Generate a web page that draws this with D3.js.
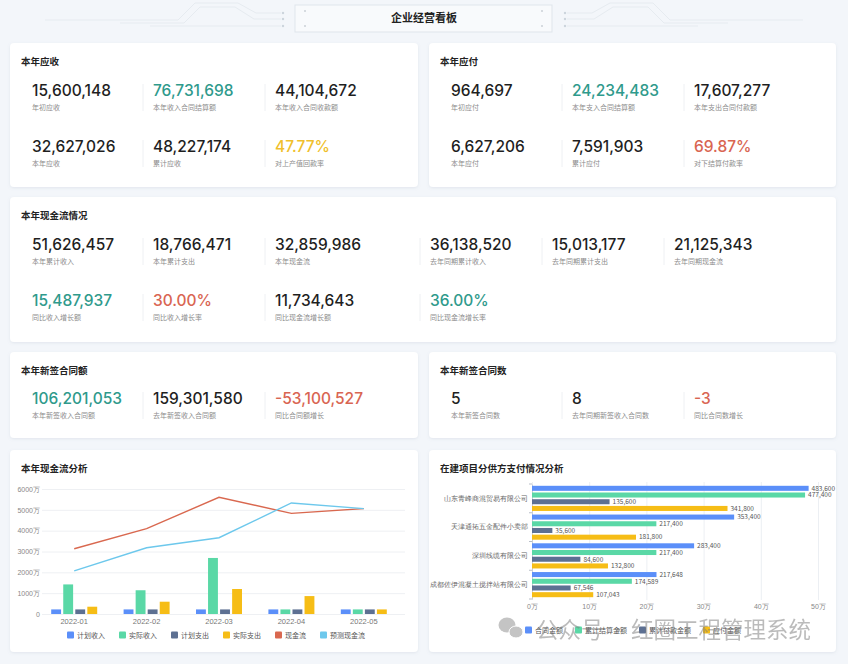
<!DOCTYPE html>
<html>
<head>
<meta charset="utf-8">
<script src="https://cdn.jsdelivr.net/npm/d3@7"></script>
<style>
html, body { margin: 0; padding: 0; background: #f3f6fa; }
svg { display: block; font-family: "Noto Sans CJK SC", "Noto Sans", sans-serif; }
.num { font-family: Inter, "Noto Sans", sans-serif; font-weight: 500; }
</style>
</head>
<body>
<svg id="board" width="848" height="664"></svg>
<script>
// ---- data ----
const receivableValues = ['15,600,148', '76,731,698', '44,104,672', '32,627,026', '48,227,174', '47.77%']
const receivableLabels = ['年初应收', '本年收入合同结算额', '本年收入合同收款额', '本年应收', '累计应收', '对上产值回款率']

const payableValues = ['964,697', '24,234,483', '17,607,277', '6,627,206', '7,591,903', '69.87%']
const payableLabels = ['年初应付', '本年支入合同结算额', '本年支出合同付款额', '本年应付', '累计应付', '对下结算付款率']

const cashValues = ['51,626,457', '18,766,471', '32,859,986', '36,138,520', '15,013,177', '21,125,343',
    '15,487,937', '30.00%', '11,734,643', '36.00%']
const cashLabels = ['本年累计收入', '本年累计支出', '本年现金流', '去年同期累计收入', '去年同期累计支出', '去年同期现金流',
    '同比收入增长额', '同比收入增长率', '同比现金流增长额', '同比现金流增长率']

const contractAmountValues = ['106,201,053', '159,301,580', '-53,100,527']
const contractAmountLabels = ['本年新签收入合同额', '去年新签收入合同额', '同比合同额增长']

const contractCountValues = ['5', '8', '-3']
const contractCountLabels = ['本年新签合同数', '去年同期新签收入合同数', '同比合同数增长']

// 本年现金流分析 (万)
const months = ['2022-01', '2022-02', '2022-03', '2022-04', '2022-05']
const barSeries = ['计划收入', '实际收入', '计划支出', '实际支出']
const lineSeries = ['现金流', '预测现金流']
const plannedIncome = [220, 220, 220, 220, 220]
const actualIncome = [1420, 1140, 2690, 220, 220]
const plannedExpense = [220, 220, 220, 220, 220]
const actualExpense = [350, 590, 1200, 860, 220]
const cashFlow = [3130, 4100, 5600, 4830, 5060]
const forecastCashFlow = [2070, 3180, 3660, 5330, 5060]
const cashTicks = [0, 1000, 2000, 3000, 4000, 5000, 6000]

// 在建项目分供方支付情况分析 (元)
const suppliers = ['山东青峰商混贸易有限公司', '天津通拓五金配件小卖部', '深圳线缆有限公司', '成都佐伊混凝土搅拌站有限公司']
const payFields = ['合同金额', '累计结算金额', '累计付款金额', '应付金额']
const contractAmount = [483600, 353400, 283400, 217648]
const settledAmount = [477400, 217400, 217400, 174589]
const paidAmount = [135600, 35600, 84600, 67546]
const dueAmount = [341800, 181800, 132800, 107043]
const payTicks = [0, 100000, 200000, 300000, 400000, 500000]

// ---- styles ----
const teal = '#2f9a8c', amber = '#f0bf2c', coral = '#d96552'
const toneByLabel = {
    '本年收入合同结算额': teal, '对上产值回款率': amber,
    '本年支入合同结算额': teal, '对下结算付款率': coral,
    '同比收入增长额': teal, '同比收入增长率': coral, '同比现金流增长率': teal,
    '本年新签收入合同额': teal, '同比合同额增长': coral, '同比合同数增长': coral
}
const barColors = ['#5b8ff9', '#5ad8a6', '#5d7092', '#f6bd16']
const lineColors = ['#d9684f', '#6dc8ec']

const svg = d3.select('#board')

svg.append('defs')
    .append('filter').attr('id', 'shadow')
    .attr('x', '-5%').attr('y', '-10%').attr('width', '110%').attr('height', '125%')
    .append('feDropShadow')
    .attr('dx', 0).attr('dy', 1).attr('stdDeviation', 1.5)
    .attr('flood-color', '#7f8fa6').attr('flood-opacity', 0.16)

svg.append('rect').attr('width', 848).attr('height', 664).attr('fill', '#f3f6fa')

// ---- header ----
function drawHeader() {
    const g = svg.append('g')
    const lines = [
        [[45, 20], [178, 20], [195, 3], [238, 3], [256, 13], [281, 13]],
        [[120, 23], [184, 23], [200, 7], [235, 7], [254, 19], [281, 19]],
        [[150, 26], [242, 26], [250, 26], [281, 26]]
    ]
    const line = d3.line()
    const mirror = pts => pts.map(([x, y]) => [848 - x, y])
    lines.forEach(pts => {
        g.append('path').attr('d', line(pts)).attr('fill', 'none').attr('stroke', '#e6ebf0')
        g.append('path').attr('d', line(mirror(pts))).attr('fill', 'none').attr('stroke', '#e6ebf0')
    })
    ;[13, 19, 26].forEach(y => {
        g.append('circle').attr('cx', 283).attr('cy', y).attr('r', 1.2).attr('fill', '#ccd4dd')
        g.append('circle').attr('cx', 565).attr('cy', y).attr('r', 1.2).attr('fill', '#ccd4dd')
    })
    g.append('rect').attr('x', 295).attr('y', 5).attr('width', 257).attr('height', 27)
        .attr('fill', '#f8fafc').attr('stroke', '#e0e5eb')
    ;[[305, 11], [305, 26], [542, 11], [542, 26]].forEach(([x, y]) =>
        g.append('circle').attr('cx', x).attr('cy', y).attr('r', 0.8).attr('fill', '#aab3be'))
    g.append('text').attr('x', 424).attr('y', 22).attr('text-anchor', 'middle')
        .attr('font-size', 11).attr('font-weight', 700).attr('fill', '#222')
        .text('企业经营看板')
}

function card(box, title) {
    const g = svg.append('g').attr('transform', `translate(${box.x},${box.y})`)
    g.append('rect').attr('width', box.w).attr('height', box.h).attr('rx', 4)
        .attr('fill', '#fff').attr('filter', 'url(#shadow)')
    if (title) g.append('text').attr('x', 11).attr('y', 22)
        .attr('font-size', 9.5).attr('font-weight', 700).attr('fill', '#222').text(title)
    return g
}

// rowLens: items per row; cols: x offsets; rows: number baselines
function kpis(g, values, labels, rowLens, cols, rows) {
    let i = 0
    rowLens.forEach((n, r) => {
        for (let c = 0; c < n; c++, i++) {
            const x = cols[c], y = rows[r]
            if (c > 0) g.append('line').attr('x1', x - 10).attr('x2', x - 10)
                .attr('y1', y - 12).attr('y2', y + 15).attr('stroke', '#eef0f3')
            g.append('text').attr('class', 'num').attr('x', x).attr('y', y)
                .attr('font-size', 15.5).attr('fill', toneByLabel[labels[i]] || '#1f1f1f')
                .text(values[i])
            g.append('text').attr('x', x).attr('y', y + 14)
                .attr('font-size', 7).attr('fill', '#8c8c8c').text(labels[i])
        }
    })
}

function legend(g, names, colors, cx, cy, gap) {
    const items = g.append('g')
    let x = 0
    names.forEach((n, i) => {
        const it = items.append('g').attr('transform', `translate(${x},0)`)
        it.append('rect').attr('y', -3.5).attr('width', 7).attr('height', 7).attr('rx', 1).attr('fill', colors[i])
        const t = it.append('text').attr('x', 10).attr('y', 2.6).attr('font-size', 7).attr('fill', '#555').text(n)
        x += 10 + t.node().getComputedTextLength() + gap
    })
    items.attr('transform', `translate(${cx - (x - gap) / 2},${cy})`)
}

drawHeader()

const cols3 = [22, 143, 265]
kpis(card({x: 10, y: 43, w: 408, h: 144}, '本年应收'), receivableValues, receivableLabels, [3, 3], cols3, [53, 109])
kpis(card({x: 429, y: 43, w: 407, h: 144}, '本年应付'), payableValues, payableLabels, [3, 3], cols3, [53, 109])
kpis(card({x: 10, y: 197, w: 826, h: 145}, '本年现金流情况'), cashValues, cashLabels, [6, 4],
    [22, 143, 265, 420, 542, 664], [53, 109])
kpis(card({x: 10, y: 352, w: 408, h: 86}, '本年新签合同额'), contractAmountValues, contractAmountLabels, [3], cols3, [52])
kpis(card({x: 429, y: 352, w: 407, h: 86}, '本年新签合同数'), contractCountValues, contractCountLabels, [3], cols3, [52])

// ---- 本年现金流分析 ----
function cashChart() {
    card({x: 10, y: 450, w: 408, h: 202}, '本年现金流分析')
    const p = svg.append('g')
    const x0 = d3.scaleBand().domain(months).range([38, 400])
    const x1 = d3.scaleBand().domain(barSeries).range([0, 46]).paddingInner(0.18)
    const y = d3.scaleLinear().domain([0, 6000]).range([614, 489])

    const ya = p.append('g').attr('transform', 'translate(42,0)')
        .call(d3.axisLeft(y).tickValues(cashTicks).tickSize(-363).tickPadding(2)
            .tickFormat(d => d === 0 ? '0' : d + '万'))
    ya.select('.domain').remove()
    ya.selectAll('line').attr('stroke', '#eef0f3')
    ya.selectAll('text').attr('font-size', 7).attr('fill', '#888').attr('font-family', null)

    const xa = p.append('g').attr('transform', 'translate(0,614)')
        .call(d3.axisBottom(x0).tickSize(0).tickPadding(5))
    xa.select('.domain').remove()
    xa.selectAll('text').attr('font-size', 7.5).attr('fill', '#777').attr('font-family', null)

    const barValues = [plannedIncome, actualIncome, plannedExpense, actualExpense]
    const off = (x0.bandwidth() - 46) / 2
    const bars = months.flatMap((m, i) => barSeries.map((s, j) => ({m, s, j, v: barValues[j][i]})))
    p.selectAll('rect.bar').data(bars).join('rect').attr('class', 'bar')
        .attr('x', d => x0(d.m) + off + x1(d.s))
        .attr('width', x1.bandwidth())
        .attr('y', d => y(d.v))
        .attr('height', d => y(0) - y(d.v))
        .attr('fill', d => barColors[d.j])

    const line = d3.line().x((d, i) => x0(months[i]) + x0.bandwidth() / 2).y(d => y(d))
    ;[cashFlow, forecastCashFlow].forEach((s, k) =>
        p.append('path').attr('d', line(s)).attr('fill', 'none')
            .attr('stroke', lineColors[k]).attr('stroke-width', 1.4))

    legend(p, barSeries.concat(lineSeries), barColors.concat(lineColors), 216, 635, 14)
}

// ---- 在建项目分供方支付情况分析 ----
function payChart() {
    card({x: 429, y: 450, w: 407, h: 202}, '在建项目分供方支付情况分析')
    const p = svg.append('g')
    const x = d3.scaleLinear().domain([0, 500000]).range([532, 818])
    const yc = d3.scaleBand().domain(suppliers).range([484, 599])
    const ys = d3.scaleBand().domain(payFields).range([1.8, yc.bandwidth() - 1.8]).paddingInner(0.25)

    const xa = p.append('g').attr('transform', 'translate(0,600)')
        .call(d3.axisBottom(x).tickValues(payTicks).tickSize(-118).tickPadding(4)
            .tickFormat(d => d / 10000 + '万'))
    xa.select('.domain').remove()
    xa.selectAll('line').attr('stroke', '#eceff3')
    xa.selectAll('text').attr('font-size', 7).attr('fill', '#888').attr('font-family', null)

    const ya = p.append('g').attr('transform', 'translate(532,0)')
        .call(d3.axisLeft(yc).tickSize(0).tickPadding(4))
    ya.select('.domain').attr('stroke', '#c9ced6')
    ya.selectAll('text').attr('font-size', 7).attr('fill', '#666').attr('font-family', null)
    p.selectAll('line.sep').data(suppliers.map(s => yc(s)).concat([yc.range()[1]])).join('line')
        .attr('class', 'sep').attr('x1', 529).attr('x2', 532).attr('y1', d => d).attr('y2', d => d)
        .attr('stroke', '#b8bec8')

    const series = [contractAmount, settledAmount, paidAmount, dueAmount]
    const bars = suppliers.flatMap((s, i) => payFields.map((f, j) => ({s, f, j, v: series[j][i]})))
    p.selectAll('rect.bar').data(bars).join('rect').attr('class', 'bar')
        .attr('x', x(0))
        .attr('y', d => yc(d.s) + ys(d.f))
        .attr('width', d => x(d.v) - x(0))
        .attr('height', ys.bandwidth())
        .attr('fill', d => barColors[d.j])
    p.selectAll('text.val').data(bars).join('text').attr('class', 'val')
        .attr('x', d => x(d.v) + 3)
        .attr('y', d => yc(d.s) + ys(d.f) + ys.bandwidth() / 2 + 2.3)
        .attr('font-size', 6.5).attr('fill', '#555')
        .text(d => d3.format(',')(d.v))

    legend(p, payFields, barColors, 633, 630, 12)

    // watermark laid over the legend, as in the source image
    const w = svg.append('g').attr('opacity', 0.5)
    w.append('ellipse').attr('cx', 507).attr('cy', 625).attr('rx', 8.5).attr('ry', 7.5).attr('fill', '#8a8a8a')
    w.append('ellipse').attr('cx', 516).attr('cy', 632).attr('rx', 7).attr('ry', 6)
        .attr('fill', '#8a8a8a').attr('stroke', '#fff').attr('stroke-width', 1)
    w.append('text').attr('x', 536).attr('y', 638).attr('font-size', 22.5).attr('fill', '#7a7a7a').text('公众号')
    w.append('circle').attr('cx', 618).attr('cy', 630).attr('r', 2).attr('fill', '#7a7a7a')
    w.append('text').attr('x', 631).attr('y', 638).attr('font-size', 22.5).attr('fill', '#7a7a7a').text('红圈工程管理系统')
}

cashChart()
payChart()
</script>
</body>
</html>
